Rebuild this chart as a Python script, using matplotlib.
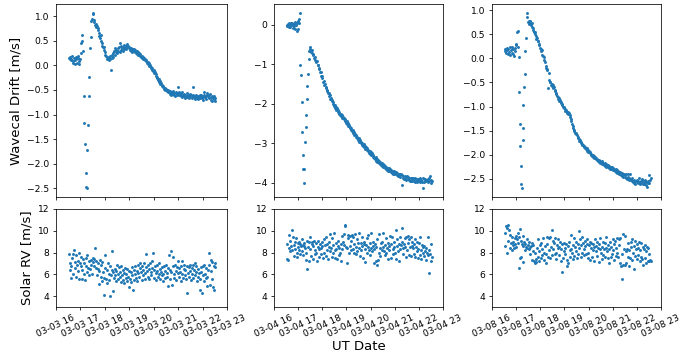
import matplotlib
matplotlib.use('Agg')
import matplotlib.pyplot as plt
import matplotlib.dates as mdates
from datetime import datetime, timedelta

# ---------------- data (minutes after 16:00 UT, drift m/s, solar RV m/s) ----------------
day_labels = ['2021-03-03', '2021-03-04', '2021-03-08']

t_0303 = [
    32, 33.5, 35, 36.5, 38, 39.5, 41, 42.5, 44, 45.5,
    47, 48.5, 50, 51.5, 53, 54.5, 56, 57.5, 59, 60.5,
    62, 63, 64.5, 66, 68, 70, 71.5, 73, 74.5, 76,
    77, 78.5, 80, 81.5, 83, 85, 87, 88.5, 90, 91.5,
    93, 94.5, 96, 97.5, 99, 100.5, 102, 103.5, 105, 106.5,
    108, 109.5, 111, 112.5, 114, 115.5, 117, 118.5, 120, 121.5,
    123, 124.5, 126, 127.5, 129, 130.5, 132, 133.5, 135, 136.5,
    138, 139.5, 141, 142.5, 144, 145.5, 147, 148.5, 150, 151.5,
    153, 154.5, 156, 157.5, 159, 160.5, 162, 163.5, 165, 166.5,
    168, 169.5, 171, 172.5, 174, 175.5, 177, 178.5, 180, 181.5,
    183, 184.5, 186, 187.5, 189, 190.5, 192, 193.5, 195, 196.5,
    198, 199.5, 201, 202.5, 204, 205.5, 207, 208.5, 210, 211.5,
    213, 214.5, 216, 217.5, 219, 220.5, 222, 223.5, 225, 226.5,
    228, 229.5, 231, 232.5, 234, 235.5, 237, 238.5, 240, 241.5,
    243, 244.5, 246, 247.5, 249, 250.5, 252, 253.5, 255, 256.5,
    258, 259.5, 261, 262.5, 264, 265.5, 267, 268.5, 270, 271.5,
    273, 274.5, 276, 277.5, 279, 280.5, 282, 283.5, 285, 286.5,
    288, 289.5, 291, 292.5, 294, 295.5, 297, 298.5, 300, 301.5,
    303, 304.5, 306, 307.5, 309, 310.5, 312, 313.5, 315, 316.5,
    318, 319.5, 321, 322.5, 324, 325.5, 327, 328.5, 330, 331.5,
    333, 334.5, 336, 337.5, 339, 340.5, 342, 343.5, 345, 346.5,
    348, 349.5, 351, 352.5, 354, 355.5, 357, 358.5, 360, 361.5,
    363, 364.5, 366, 367.5, 369, 370.5, 372, 373.5, 375, 376.5,
    378, 379.5, 381, 382.5, 384, 385.5, 387, 388.5, 390, 391.5,
]
drift_0303 = [
    0.15, 0.13, 0.18, 0.10, 0.12, 0.20, 0.08, 0.05, 0.15, 0.02,
    0.10, 0.18, 0.13, 0.05, 0.20, 0.15, 0.08, 0.02, 0.12, 0.26,
    0.45, 0.62, 0.50, 0.30, -0.62, -1.17, -1.60, -2.20, -2.47, -2.50,
    -1.72, -1.22, -0.62, -0.23, 0.35, 0.58, 0.90, 0.95, 1.07, 1.05,
    0.92, 0.88, 0.82, 0.85, 0.78, 0.80, 0.72, 0.75, 0.65, 0.60,
    0.55, 0.62, 0.50, 0.45, 0.40, 0.38, 0.32, 0.38, 0.28, 0.22,
    0.20, 0.18, 0.12, 0.15, 0.10, 0.18, 0.12, 0.20, -0.10, 0.15,
    0.22, 0.18, 0.25, 0.30, 0.22, 0.35, 0.28, 0.32, 0.25, 0.35,
    0.30, 0.38, 0.28, 0.46, 0.32, 0.40, 0.35, 0.30, 0.38, 0.33,
    0.42, 0.36, 0.40, 0.34, 0.38, 0.44, 0.40, 0.35, 0.38, 0.32,
    0.36, 0.30, 0.34, 0.28, 0.33, 0.30, 0.33, 0.28, 0.31, 0.26,
    0.29, 0.24, 0.27, 0.22, 0.25, 0.20, 0.23, 0.18, 0.20, 0.15,
    0.18, 0.13, 0.15, 0.10, 0.13, 0.08, 0.10, 0.05, 0.07, 0.02,
    0.04, -0.02, 0.00, -0.05, -0.03, -0.09, -0.06, -0.12, -0.10, -0.16,
    -0.14, -0.21, -0.18, -0.25, -0.23, -0.30, -0.27, -0.34, -0.31, -0.38,
    -0.36, -0.42, -0.40, -0.45, -0.43, -0.48, -0.46, -0.50, -0.48, -0.52,
    -0.50, -0.55, -0.50, -0.55, -0.58, -0.53, -0.56, -0.60, -0.55, -0.58,
    -0.52, -0.60, -0.56, -0.62, -0.57, -0.54, -0.60, -0.56, -0.45, -0.55,
    -0.60, -0.57, -0.62, -0.58, -0.65, -0.55, -0.60, -0.63, -0.58, -0.66,
    -0.60, -0.62, -0.57, -0.64, -0.60, -0.67, -0.61, -0.58, -0.63, -0.60,
    -0.66, -0.62, -0.45, -0.60, -0.65, -0.62, -0.68, -0.63, -0.60, -0.66,
    -0.62, -0.69, -0.64, -0.61, -0.67, -0.63, -0.60, -0.66, -0.70, -0.64,
    -0.61, -0.55, -0.65, -0.62, -0.68, -0.60, -0.56, -0.63, -0.66, -0.61,
    -0.58, -0.64, -0.70, -0.62, -0.72, -0.66, -0.62, -0.68, -0.73, -0.66,
]
rv_0303 = [
    7.9, 7.0, 6.4, 5.7, 6.8, 7.5, 6.0, 7.9, 8.2, 7.1,
    6.6, 5.8, 7.8, 6.9, 6.3, 7.2, 8.0, 5.6, 7.0, 6.8,
    7.6, 5.6, 6.4, 7.4, 6.0, 7.0, 5.5, 6.8, 7.5, 6.2,
    7.8, 6.6, 5.9, 7.2, 6.5, 7.3, 6.9, 6.0, 7.5, 7.1,
    6.8, 7.4, 8.4, 6.6, 7.2, 5.9, 6.5, 7.0, 5.1, 6.3,
    7.3, 5.8, 6.9, 5.4, 7.1, 6.2, 5.7, 4.1, 6.6, 7.8,
    5.6, 6.4, 5.2, 7.0, 6.0, 5.5, 4.0, 6.8, 5.9, 8.1,
    6.4, 4.5, 6.2, 5.7, 6.5, 5.9, 6.3, 5.4, 6.9, 6.0,
    5.6, 6.7, 5.8, 6.2, 5.3, 6.8, 5.9, 6.4, 5.5, 6.1,
    5.2, 6.6, 5.7, 6.0, 5.4, 6.5, 5.8, 6.3, 4.8, 5.6,
    6.2, 5.3, 6.7, 5.9, 4.6, 6.4, 5.5, 6.0, 6.8, 5.7,
    6.3, 5.4, 6.9, 6.1, 5.8, 6.6, 7.0, 6.2, 5.5, 6.8,
    6.4, 5.9, 7.0, 6.1, 5.6, 6.7, 7.9, 6.3, 5.8, 6.9,
    6.5, 5.6, 7.0, 6.2, 5.9, 6.6, 7.2, 8.0, 6.4, 5.7,
    6.8, 6.1, 5.5, 6.9, 6.3, 5.8, 7.0, 6.0, 5.6, 6.5,
    6.2, 5.9, 6.7, 6.0, 5.4, 6.8, 6.3, 5.7, 6.9, 6.1,
    5.8, 6.6, 4.9, 7.8, 6.4, 5.6, 8.1, 6.2, 5.0, 6.8,
    7.6, 6.0, 5.7, 6.9, 6.3, 5.5, 6.7, 7.2, 6.1, 5.8,
    6.6, 6.2, 5.4, 6.8, 6.0, 7.2, 5.7, 6.5, 6.9, 5.9,
    6.4, 5.6, 6.8, 4.3, 6.1, 6.7, 5.8, 6.9, 6.3, 5.5,
    6.6, 6.0, 6.9, 5.7, 6.4, 7.0, 5.9, 6.2, 6.8, 5.4,
    6.5, 5.8, 6.1, 4.6, 5.6, 6.7, 6.2, 4.3, 5.9, 6.8,
    5.4, 6.9, 6.0, 5.7, 6.6, 4.9, 5.8, 6.4, 8.0, 6.9,
    5.0, 7.3, 6.3, 5.6, 7.1, 4.8, 6.8, 4.6, 7.0, 6.7,
]

t_0304 = [
    32, 33.5, 35, 36.5, 38, 39.5, 41, 42.5, 44, 45.5,
    47, 48.5, 50, 51.5, 53, 54.5, 56, 57.5, 59, 60.5,
    62, 63, 64, 65.5, 67, 68.5, 70, 71.5, 73, 74.5,
    75.5, 77, 78.5, 80, 81.5, 83, 84.5, 86, 87.5, 89,
    90.5, 92, 93.5, 95, 96.5, 98, 99.5, 101, 102.5, 104,
    105.5, 107, 108.5, 110, 111.5, 113, 114.5, 116, 117.5, 119,
    120.5, 122, 123.5, 125, 126.5, 128, 129.5, 131, 132.5, 134,
    135.5, 137, 138.5, 140, 141.5, 143, 144.5, 146, 147.5, 149,
    150.5, 152, 153.5, 155, 156.5, 158, 159.5, 161, 162.5, 164,
    165.5, 167, 168.5, 170, 171.5, 173, 174.5, 176, 177.5, 179,
    180.5, 182, 183.5, 185, 186.5, 188, 189.5, 191, 192.5, 194,
    195.5, 197, 198.5, 200, 201.5, 203, 204.5, 206, 207.5, 209,
    210.5, 212, 213.5, 215, 216.5, 218, 219.5, 221, 222.5, 224,
    225.5, 227, 228.5, 230, 231.5, 233, 234.5, 236, 237.5, 239,
    240.5, 242, 243.5, 245, 246.5, 248, 249.5, 251, 252.5, 254,
    255.5, 257, 258.5, 260, 261.5, 263, 264.5, 266, 267.5, 269,
    270.5, 272, 273.5, 275, 276.5, 278, 279.5, 281, 282.5, 284,
    285.5, 287, 288.5, 290, 291.5, 293, 294.5, 296, 297.5, 299,
    300.5, 302, 303.5, 305, 306.5, 308, 309.5, 311, 312.5, 314,
    315.5, 317, 318.5, 320, 321.5, 323, 324.5, 326, 327.5, 329,
    330.5, 332, 333.5, 335, 336.5, 338, 339.5, 341, 342.5, 344,
    345.5, 347, 348.5, 350, 351.5, 353, 354.5, 356, 357.5, 359,
    360.5, 362, 363.5, 365, 366.5, 368, 369.5, 371, 372.5, 374,
    375.5, 377, 378.5, 380, 381.5, 383, 384.5, 386, 387.5, 389,
    390.5, 392,
]
drift_0304 = [
    0.00, -0.03, 0.02, -0.05, 0.03, 0.00, -0.06, 0.04, -0.02, 0.05,
    -0.08, 0.01, -0.04, 0.06, -0.12, -0.02, -0.15, 0.03, -0.10, 0.10,
    0.15, 0.05, 0.30, -1.02, -1.28, -1.97, -2.72, -3.30, -3.65, -3.66,
    -4.02, -2.98, -2.58, -2.28, -1.88, -1.56, -1.24, -0.88, -0.68, -0.62,
    -0.57, -0.70, -0.65, -0.72, -0.78, -0.75, -0.85, -0.82, -0.90, -0.93,
    -0.95, -0.93, -1.03, -1.02, -1.12, -1.10, -1.20, -1.21, -1.30, -1.29,
    -1.35, -1.44, -1.42, -1.52, -1.50, -1.60, -1.58, -1.67, -1.65, -1.74,
    -1.72, -1.81, -1.79, -1.88, -1.85, -1.94, -1.91, -2.00, -1.97, -2.06,
    -2.03, -2.11, -2.08, -2.16, -2.12, -2.20, -2.17, -2.25, -2.21, -2.28,
    -2.25, -2.32, -2.28, -2.36, -2.33, -2.40, -2.36, -2.44, -2.40, -2.48,
    -2.44, -2.52, -2.48, -2.57, -2.53, -2.62, -2.58, -2.66, -2.62, -2.70,
    -2.67, -2.75, -2.72, -2.80, -2.76, -2.84, -2.80, -2.88, -2.84, -2.92,
    -2.88, -2.96, -2.92, -3.00, -2.96, -3.04, -3.00, -3.07, -3.03, -3.10,
    -3.06, -3.14, -3.10, -3.18, -3.13, -3.21, -3.16, -3.25, -3.19, -3.27,
    -3.23, -3.31, -3.26, -3.34, -3.30, -3.38, -3.34, -3.41, -3.36, -3.44,
    -3.39, -3.47, -3.42, -3.50, -3.45, -3.53, -3.48, -3.56, -3.50, -3.58,
    -3.53, -3.60, -3.55, -3.63, -3.57, -3.66, -3.60, -3.68, -3.62, -3.70,
    -3.64, -3.71, -3.66, -3.74, -3.68, -3.76, -3.70, -3.77, -3.71, -3.79,
    -3.72, -3.79, -3.74, -3.80, -3.75, -3.83, -3.77, -3.84, -3.78, -3.86,
    -3.79, -4.05, -3.81, -3.88, -3.82, -3.90, -3.84, -3.91, -3.85, -3.92,
    -3.84, -3.91, -3.86, -3.93, -3.88, -3.95, -3.87, -3.95, -3.89, -3.96,
    -3.88, -3.95, -3.90, -3.97, -3.89, -3.96, -3.91, -3.98, -3.90, -3.95,
    -3.91, -3.97, -3.89, -3.96, -3.92, -3.98, -3.88, -4.14, -3.91, -3.97,
    -3.90, -3.96, -3.92, -3.93, -3.97, -3.90, -3.88, -3.95, -3.84, -3.92,
    -4.00, -3.95,
]
rv_0304 = [
    8.8, 7.4, 7.3, 9.6, 8.4, 8.1, 9.1, 8.6, 10.1, 8.2,
    9.4, 8.7, 7.7, 9.0, 8.3, 9.3, 8.0, 7.6, 8.9, 8.5,
    9.0, 8.2, 8.8, 7.9, 8.6, 9.2, 8.1, 8.7, 7.8, 8.9,
    8.6, 8.4, 7.3, 8.0, 9.1, 6.45, 8.5, 9.0, 7.2, 8.3,
    9.4, 7.7, 8.8, 9.0, 7.4, 8.6, 9.1, 7.9, 8.2, 8.9,
    8.0, 7.2, 8.5, 9.1, 7.6, 8.3, 8.8, 7.9, 8.4, 9.0,
    8.6, 7.5, 9.2, 8.0, 8.7, 7.7, 9.4, 8.2, 8.8, 7.4,
    8.5, 9.0, 8.1, 9.7, 8.4, 7.6, 9.3, 8.7, 8.0, 9.8,
    8.2, 7.5, 8.9, 8.3, 7.4, 8.6, 9.1, 7.8, 8.4, 8.0,
    8.8, 7.2, 9.5, 8.3, 9.0, 9.7, 8.7, 10.4, 10.5, 8.5,
    7.0, 8.4, 9.6, 9.3, 8.0, 9.5, 8.6, 9.1, 8.2, 9.6,
    8.3, 9.4, 8.0, 8.8, 9.7, 7.9, 8.5, 9.2, 8.1, 8.9,
    9.8, 8.4, 7.7, 8.9, 8.2, 9.4, 8.6, 7.5, 8.8, 9.0,
    8.3, 7.1, 8.7, 9.3, 8.0, 8.5, 9.6, 8.2, 7.8, 8.9,
    8.4, 9.8, 8.1, 8.6, 9.0, 7.0, 8.3, 8.8, 7.2, 8.5,
    9.2, 6.9, 7.3, 8.0, 9.7, 8.4, 7.7, 8.9, 8.2, 9.0,
    8.5, 9.8, 8.1, 7.8, 8.7, 8.0, 9.3, 8.4, 7.4, 8.9,
    8.2, 8.6, 9.5, 8.8, 7.5, 9.4, 8.3, 7.9, 9.0, 8.5,
    8.0, 7.4, 10.1, 8.6, 9.2, 8.1, 7.2, 8.8, 9.4, 8.3,
    8.7, 9.0, 10.3, 8.4, 7.9, 8.8, 9.3, 8.5, 7.6, 9.4,
    8.2, 9.5, 8.9, 7.8, 9.2, 8.5, 9.4, 7.7, 8.6, 9.0,
    8.4, 7.9, 8.8, 9.2, 7.6, 8.5, 8.1, 9.0, 7.5, 8.3,
    8.9, 7.8, 9.4, 8.2, 7.4, 8.7, 8.0, 8.5, 7.7, 8.6,
    8.1, 7.3, 8.4, 8.0, 7.8, 9.4, 8.2, 6.15, 7.9, 8.8,
    7.2, 7.6,
]

t_0308 = [
    32, 33.5, 35, 36.5, 38, 39.5, 41, 42.5, 44, 45.5,
    47, 48.5, 50, 51.5, 53, 54.5, 56, 57.5, 59, 60.5,
    62, 63.5, 65, 66.5, 68, 69, 70, 71.5, 73, 74.5,
    76, 77, 78, 79.5, 81, 82.5, 84, 86, 88, 89.5,
    91, 92.5, 94, 95.5, 97, 98.5, 100, 101.5, 103, 104.5,
    106, 107.5, 109, 110.5, 112, 113.5, 115, 116.5, 118, 119.5,
    121, 122.5, 124, 125.5, 127, 128.5, 130, 131.5, 133, 134.5,
    136, 137.5, 139, 140.5, 142, 143.5, 145, 146.5, 148, 149.5,
    151, 152.5, 154, 155.5, 157, 158.5, 160, 161.5, 163, 164.5,
    166, 167.5, 169, 170.5, 172, 173.5, 175, 176.5, 178, 179.5,
    181, 182.5, 184, 185.5, 187, 188.5, 190, 191.5, 193, 194.5,
    196, 197.5, 199, 200.5, 202, 203.5, 205, 206.5, 208, 209.5,
    211, 212.5, 214, 215.5, 217, 218.5, 220, 221.5, 223, 224.5,
    226, 227.5, 229, 230.5, 232, 233.5, 235, 236.5, 238, 239.5,
    241, 242.5, 244, 245.5, 247, 248.5, 250, 251.5, 253, 254.5,
    256, 257.5, 259, 260.5, 262, 263.5, 265, 266.5, 268, 269.5,
    271, 272.5, 274, 275.5, 277, 278.5, 280, 281.5, 283, 284.5,
    286, 287.5, 289, 290.5, 292, 293.5, 295, 296.5, 298, 299.5,
    301, 302.5, 304, 305.5, 307, 308.5, 310, 311.5, 313, 314.5,
    316, 317.5, 319, 320.5, 322, 323.5, 325, 326.5, 328, 329.5,
    331, 332.5, 334, 335.5, 337, 338.5, 340, 341.5, 343, 344.5,
    346, 347.5, 349, 350.5, 352, 353.5, 355, 356.5, 358, 359.5,
    361, 362.5, 364, 365.5, 367, 368.5, 370, 371.5, 373, 374.5,
    376, 377.5, 379, 380.5, 382, 383.5, 385, 386.5, 388, 389.5,
    391, 392.5, 394,
]
drift_0308 = [
    0.20, 0.15, 0.12, 0.22, 0.18, 0.10, 0.20, 0.14, 0.23, 0.08,
    0.17, 0.12, 0.24, 0.10, 0.19, 0.06, 0.15, 0.21, 0.31, 0.27,
    0.55, 0.58, 0.24, 0.02, -0.69, -1.37, -1.82, -2.24, -2.62, -2.70,
    -1.70, -1.44, -0.96, -0.60, -0.32, 0.15, 0.42, 0.95, 0.87, 0.75,
    0.78, 0.72, 0.77, 0.74, 0.70, 0.73, 0.66, 0.63, 0.60, 0.56,
    0.55, 0.50, 0.46, 0.40, 0.42, 0.36, 0.37, 0.30, 0.28, 0.22,
    0.20, 0.16, 0.17, 0.08, 0.05, 0.02, -0.04, -0.08, -0.15, -0.19,
    -0.21, -0.25, -0.62, -0.30, -0.45, -0.50, -0.48, -0.55, -0.53, -0.58,
    -0.56, -0.62, -0.60, -0.68, -0.66, -0.72, -0.74, -0.78, -0.80, -0.84,
    -0.82, -0.88, -0.86, -0.91, -0.93, -0.97, -0.95, -1.02, -1.04, -1.00,
    -1.06, -1.10, -1.08, -1.13, -1.11, -1.12, -1.15, -1.13, -1.18, -1.22,
    -1.26, -1.30, -1.36, -1.40, -1.44, -1.48, -1.50, -1.56, -1.58, -1.55,
    -1.60, -1.65, -1.63, -1.68, -1.72, -1.70, -1.76, -1.74, -1.79, -1.81,
    -1.80, -1.84, -1.82, -1.86, -1.85, -1.89, -1.87, -1.92, -1.90, -1.94,
    -1.93, -1.97, -1.95, -2.00, -1.98, -2.02, -2.00, -2.05, -2.03, -2.07,
    -2.05, -2.09, -2.07, -2.11, -2.10, -2.14, -2.12, -2.16, -2.13, -2.18,
    -2.15, -2.19, -2.14, -2.20, -2.17, -2.22, -2.18, -2.24, -2.19, -2.25,
    -2.21, -2.26, -2.22, -2.28, -2.24, -2.29, -2.25, -2.31, -2.26, -2.32,
    -2.28, -2.33, -2.30, -2.35, -2.31, -2.37, -2.33, -2.38, -2.34, -2.40,
    -2.36, -2.41, -2.37, -2.43, -2.39, -2.44, -2.40, -2.46, -2.41, -2.47,
    -2.43, -2.48, -2.40, -2.50, -2.46, -2.40, -2.52, -2.48, -2.41, -2.53,
    -2.50, -2.55, -2.49, -2.57, -2.52, -2.60, -2.54, -2.62, -2.55, -2.58,
    -2.53, -2.60, -2.55, -2.48, -2.57, -2.62, -2.54, -2.59, -2.51, -2.61,
    -2.56, -2.62, -2.58, -2.52, -2.63, -2.57, -2.68, -2.59, -2.54, -2.60,
    -2.42, -2.52, -2.48,
]
rv_0308 = [
    9.8, 8.6, 10.4, 8.0, 10.3, 10.5, 9.1, 10.1, 9.6, 8.4,
    8.9, 9.4, 8.2, 8.7, 9.0, 8.4, 9.3, 8.8, 9.5, 8.5,
    9.2, 9.8, 8.9, 6.6, 9.4, 7.5, 10.2, 7.6, 9.1, 8.8,
    7.1, 9.5, 8.6, 9.0, 8.2, 8.8, 8.5, 9.2, 8.4, 8.7,
    8.3, 9.0, 8.5, 7.9, 8.6, 8.9, 7.3, 8.1, 8.7, 7.2,
    8.0, 7.0, 7.4, 7.1, 8.4, 7.6, 9.2, 7.2, 8.1, 8.7,
    7.5, 8.9, 7.8, 8.3, 9.3, 7.3, 8.0, 8.6, 7.0, 7.9,
    8.8, 9.4, 7.6, 9.3, 8.2, 7.5, 9.4, 8.5, 10.1, 7.8,
    9.1, 8.3, 8.9, 7.9, 9.3, 8.0, 7.4, 8.7, 9.2, 8.4,
    7.8, 8.5, 9.0, 8.3, 7.2, 8.8, 6.2, 7.5, 8.1, 8.9,
    8.4, 7.9, 8.8, 6.8, 7.3, 8.6, 7.0, 9.0, 8.2, 7.6,
    8.3, 9.6, 8.0, 7.4, 8.7, 9.3, 7.7, 8.5, 9.0, 8.1,
    7.5, 8.8, 7.9, 10.0, 8.4, 9.2, 7.6, 8.7, 9.4, 8.0,
    8.9, 7.8, 8.3, 9.1, 8.6, 7.9, 8.8, 9.2, 8.0, 7.5,
    8.7, 9.0, 7.3, 8.4, 8.9, 7.6, 8.2, 8.8, 7.2, 8.5,
    9.2, 8.1, 8.6, 7.7, 9.0, 8.4, 7.1, 8.8, 8.3, 9.3,
    8.0, 7.4, 8.5, 9.0, 7.8, 8.3, 8.9, 7.6, 8.4, 9.4,
    8.1, 7.5, 8.7, 7.0, 8.3, 9.0, 7.6, 8.5, 7.9, 9.2,
    8.2, 7.3, 8.8, 9.1, 7.7, 8.4, 9.3, 8.0, 7.6, 8.7,
    9.2, 7.0, 9.3, 6.8, 7.9, 5.6, 9.7, 6.9, 8.3, 9.5,
    6.9, 8.1, 7.0, 8.3, 7.6, 8.9, 6.8, 8.2, 7.5, 9.0,
    8.5, 7.3, 9.2, 8.0, 6.5, 8.6, 7.7, 9.1, 8.3, 7.4,
    8.8, 7.8, 8.4, 9.0, 7.2, 8.2, 7.6, 8.9, 7.4, 8.5,
    6.9, 8.3, 7.5, 8.7, 8.1, 7.0, 8.5, 7.2, 8.4, 7.9,
    7.2, 7.3, 7.2,
]

times = [t_0303, t_0304, t_0308]
drifts = [drift_0303, drift_0304, drift_0308]
rvs = [rv_0303, rv_0304, rv_0308]

# ---------------- figure ----------------
plt.rcParams['font.family'] = ['DejaVu Sans']
W, H = 680, 355
fig = plt.figure(figsize=(W / 100, H / 100), dpi=100)

col_px = [(56, 227), (274, 443), (492, 661)]
top_px = (4, 197)
bot_px = (209, 307)
color = '#1f77b4'
tick_fs = 6.6
label_fs = 9.5
lw = 0.55

for i, (x0, x1) in enumerate(col_px):
    l = x0 / W
    w = (x1 - x0) / W
    ax_t = fig.add_axes([l, 1 - top_px[1] / H, w, (top_px[1] - top_px[0]) / H])
    ax_b = fig.add_axes([l, 1 - bot_px[1] / H, w, (bot_px[1] - bot_px[0]) / H], sharex=ax_t)

    base = datetime.strptime(day_labels[i], '%Y-%m-%d') + timedelta(hours=16)
    xs = [base + timedelta(minutes=m) for m in times[i]]
    assert len(xs) == len(drifts[i]) == len(rvs[i])

    ax_t.scatter(xs, drifts[i], s=4.5, c=color, linewidths=0)
    ax_b.scatter(xs, rvs[i], s=4.5, c=color, linewidths=0)

    ax_b.set_xlim(base, base + timedelta(hours=7))
    ax_b.xaxis.set_major_locator(mdates.HourLocator())
    ax_b.xaxis.set_major_formatter(mdates.DateFormatter('%m-%d %H'))
    ax_b.set_ylim(3, 12)
    ax_b.set_yticks([4, 6, 8, 10, 12])

    for ax in (ax_t, ax_b):
        ax.tick_params(labelsize=tick_fs, length=2.4, width=lw, pad=2.4)
        for sp in ax.spines.values():
            sp.set_linewidth(lw)
    ax_t.tick_params(labelbottom=False)
    for lab in ax_b.get_xticklabels():
        lab.set_rotation(25)

    if i == 0:
        ax_t.set_ylabel('Wavecal Drift [m/s]', fontsize=label_fs, labelpad=3)
        ax_b.set_ylabel('Solar RV [m/s]', fontsize=label_fs, labelpad=3)

fig.text((col_px[1][0] + col_px[1][1]) / 2 / W, 1 - 347 / H, 'UT Date',
         fontsize=label_fs, ha='center', va='center')

fig.savefig('out.png', dpi=100)
